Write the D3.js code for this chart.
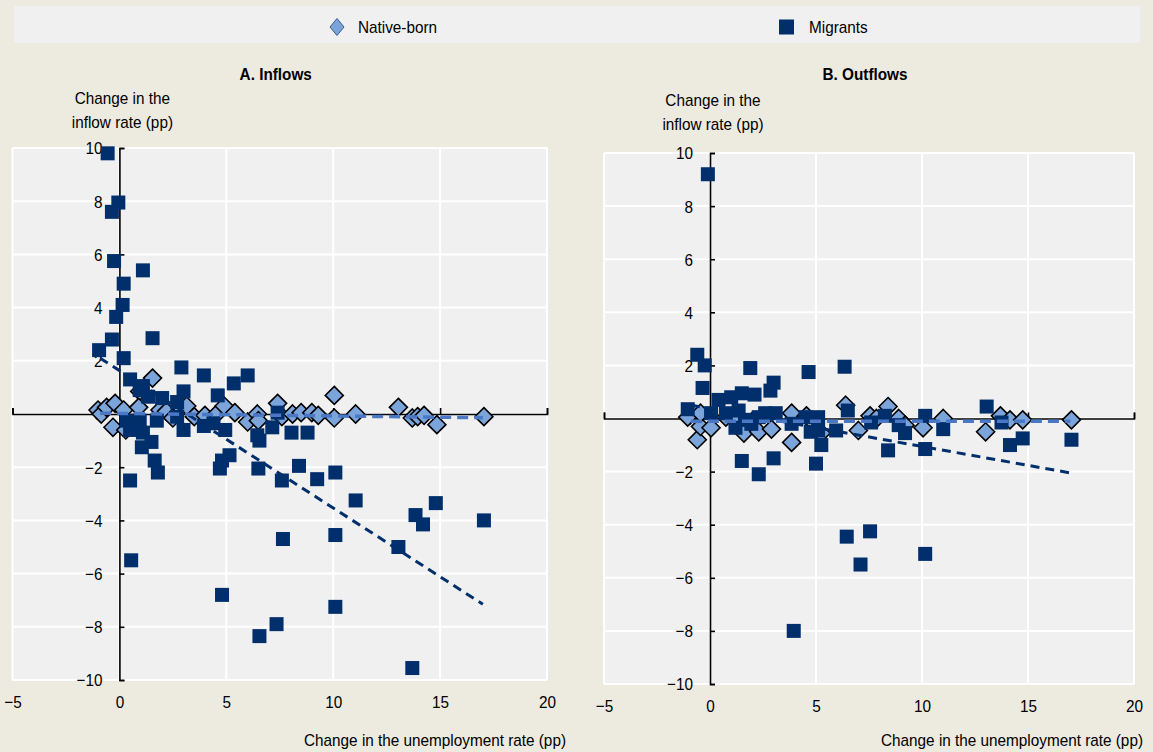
<!DOCTYPE html>
<html>
<head>
<meta charset="utf-8">
<script src="https://d3js.org/d3.v7.min.js"></script>
<style>
    body { margin: 0; background: #edeae0; }
    svg text { font-family: Arial, "Liberation Sans", sans-serif; fill: #000; }
</style>
</head>
<body>
<svg id="chart" width="1153" height="752"></svg>
<script>
// values, [change in unemployment rate, change in flow rate]
const inflowsMigrants = [
    [-0.55, 9.8], [-0.05, 7.95], [-0.35, 7.6], [-0.25, 5.75], [1.1, 5.4], [0.2, 4.9],
    [0.15, 4.1], [-0.15, 3.65], [-0.35, 2.8], [1.55, 2.85], [-0.95, 2.4], [0.2, 2.1],
    [2.9, 1.75], [0.5, 1.3], [1.1, 1.05], [3.95, 1.45], [5.35, 1.15], [6.0, 1.45],
    [3.0, 0.85], [4.6, 0.7], [1.35, 0.65], [2.0, 0.6], [2.7, 0.45], [0.95, 0.9],
    [0.35, -0.25], [0.95, -0.25], [1.75, -0.25], [2.7, -0.1], [3.0, -0.6], [0.5, -0.6],
    [1.1, -0.7], [1.05, -1.25], [1.5, -1.05], [1.65, -1.75], [1.8, -2.2], [0.5, -2.5],
    [0.55, -5.5], [4.4, -0.35], [3.95, -0.45], [4.95, -0.6], [6.45, -0.8], [7.15, -0.5],
    [8.05, -0.7], [8.8, -0.7], [7.4, 0.05], [6.55, -1.0], [4.8, -1.75], [5.15, -1.55],
    [4.7, -2.05], [6.5, -2.05], [8.4, -1.95], [7.6, -2.5], [9.25, -2.45], [10.1, -2.2],
    [11.05, -3.25], [7.65, -4.7], [10.1, -4.55], [13.05, -5.0], [13.85, -3.8], [14.2, -4.15],
    [14.8, -3.35], [17.05, -4.0], [4.8, -6.8], [10.1, -7.25], [7.35, -7.9], [6.55, -8.35],
    [13.7, -9.55]
];
const inflowsNative = [
    [-1.0, 0.15], [-0.85, 0.0], [-0.6, 0.25], [-0.3, -0.5], [-0.2, 0.4], [0.2, 0.15],
    [0.3, -0.6], [1.55, 1.35], [0.95, 0.85], [0.9, 0.25], [1.9, 0.15], [2.2, 0.1],
    [2.5, -0.15], [3.15, 0.3], [3.5, -0.1], [4.0, -0.05], [4.55, 0.0], [4.9, 0.3],
    [5.4, 0.05], [6.0, -0.3], [6.45, 0.0], [6.5, -0.25], [7.4, 0.4], [7.6, -0.1],
    [8.1, 0.0], [8.5, 0.05], [9.0, 0.05], [9.3, -0.05], [10.05, 0.7], [10.05, -0.15],
    [11.05, 0.0], [13.05, 0.25], [13.7, -0.15], [13.95, -0.1], [14.25, -0.05], [14.85, -0.4],
    [17.05, -0.1]
];
const outflowsMigrants = [
    [-0.1, 9.2], [-0.6, 2.4], [-0.25, 2.0], [-0.35, 1.15], [-1.05, 0.35], [1.9, 1.9],
    [4.65, 1.75], [6.35, 1.95], [3.0, 1.35], [2.85, 1.05], [0.4, 0.7], [1.0, 0.8],
    [1.5, 0.95], [2.1, 0.9], [0.05, 0.2], [0.75, 0.2], [1.35, 0.3], [1.65, -0.05],
    [2.3, 0.05], [1.2, -0.35], [1.95, -0.2], [2.6, 0.2], [3.1, 0.2], [3.85, -0.2],
    [4.5, 0.05], [5.1, 0.05], [5.1, -0.45], [4.75, -0.5], [5.25, -1.0], [5.95, -0.45],
    [6.5, 0.3], [7.6, -0.15], [8.25, 0.1], [8.9, -0.25], [9.2, -0.55], [8.4, -1.2],
    [10.15, 0.1], [10.15, -1.15], [11.0, -0.4], [13.05, 0.45], [13.75, -0.15], [14.15, -1.0],
    [14.75, -0.75], [17.05, -0.8], [1.5, -1.6], [3.0, -1.5], [2.3, -2.1], [5.0, -1.7],
    [6.45, -4.45], [7.55, -4.25], [7.1, -5.5], [10.15, -5.1], [3.95, -8.0]
];
const outflowsNative = [
    [-1.05, 0.05], [-0.6, -0.8], [-0.45, -0.3], [-0.45, 0.2], [0.05, -0.35], [0.75, 0.05],
    [1.2, 0.1], [1.6, -0.55], [2.0, -0.1], [2.3, -0.5], [2.9, -0.4], [3.85, 0.2],
    [3.85, -0.9], [4.55, 0.1], [5.25, -0.55], [6.4, 0.5], [7.0, -0.45], [7.55, 0.1],
    [7.85, 0.0], [8.4, 0.45], [8.9, 0.0], [9.2, -0.25], [10.05, -0.35], [11.0, 0.0],
    [13.0, -0.5], [13.7, 0.1], [14.15, -0.05], [14.75, -0.05], [17.05, -0.05]
];
// linear trend lines, end points
const inflowsMigrantsTrend = [[-0.9, 2.1], [17.0, -7.15]];
const inflowsNativeTrend = [[-0.9, 0.03], [17.0, -0.14]];
const outflowsMigrantsTrend = [[-0.9, 0.5], [17.0, -2.05]];
const outflowsNativeTrend = [[-0.9, -0.1], [17.0, -0.1]];

const xTicks = [-5, 0, 5, 10, 15, 20];
const yTicks = [-10, -8, -6, -4, -2, 0, 2, 4, 6, 8, 10];
const seriesNames = ["Native-born", "Migrants"];

const navy = "#002f6c", light = "#7ba5da", midBlue = "#4a78c6";
const fs = 17;

// the source font is a narrow Arial, squeeze the glyphs a bit
function condense(sel) {
    sel.each(function() {
        const w = this.getComputedTextLength();
        this.setAttribute("textLength", w * 0.9);
        this.setAttribute("lengthAdjust", "spacingAndGlyphs");
    });
}

const svg = d3.select("#chart");

// legend
svg.append("rect").attr("x", 14).attr("y", 6).attr("width", 1126).attr("height", 37).attr("fill", "#f0f0f0");
const diamond = s => "M0," + (-s) + "L" + s + ",0L0," + s + "L" + (-s) + ",0Z";
const leg = svg.append("g");
leg.append("path").attr("d", "M0,-8.5L7,0L0,8.5L-7,0Z").attr("transform", "translate(337,27)")
    .attr("fill", light).attr("stroke", "#3a5a8c").attr("stroke-width", 1);
leg.append("text").attr("x", 358).attr("y", 33).attr("font-size", fs).text(seriesNames[0]);
leg.append("rect").attr("x", 779).attr("y", 19.5).attr("width", 15).attr("height", 15).attr("fill", navy);
leg.append("text").attr("x", 809).attr("y", 33).attr("font-size", fs).text(seriesNames[1]);

const panels = [
    {title: "A. Inflows", left: 12.5, right: 547, top: 148, bottom: 680, titleRight: 566, yTitleY: 104,
     migrants: inflowsMigrants, native: inflowsNative, mTrend: inflowsMigrantsTrend, nTrend: inflowsNativeTrend},
    {title: "B. Outflows", left: 604, right: 1134, top: 153, bottom: 684, titleRight: 1143, yTitleY: 106,
     migrants: outflowsMigrants, native: outflowsNative, mTrend: outflowsMigrantsTrend, nTrend: outflowsNativeTrend}
];

panels.forEach(function(p) {
    const x = d3.scaleLinear().domain([-5, 20]).range([p.left, p.right]);
    const y = d3.scaleLinear().domain([-10, 10]).range([p.bottom, p.top]);
    const g = svg.append("g");

    g.append("rect").attr("x", p.left).attr("y", p.top)
        .attr("width", p.right - p.left).attr("height", p.bottom - p.top).attr("fill", "#f0f0f0");

    g.selectAll(".hgrid").data(yTicks).enter().append("line")
        .attr("x1", p.left).attr("x2", p.right)
        .attr("y1", d => y(d)).attr("y2", d => y(d))
        .attr("stroke", "#fff").attr("stroke-width", 2);
    g.selectAll(".vgrid").data(xTicks).enter().append("line")
        .attr("x1", d => x(d)).attr("x2", d => x(d))
        .attr("y1", p.top).attr("y2", p.bottom)
        .attr("stroke", "#fff").attr("stroke-width", 2);

    // titles
    g.append("text").attr("x", (p.left + p.right) / 2 - 4).attr("y", 80)
        .attr("text-anchor", "middle").attr("font-size", fs).attr("font-weight", "bold").text(p.title);
    g.append("text").attr("x", x(0) + 3).attr("y", p.yTitleY)
        .attr("text-anchor", "middle").attr("font-size", fs).text("Change in the");
    g.append("text").attr("x", x(0) + 3).attr("y", p.yTitleY + 24)
        .attr("text-anchor", "middle").attr("font-size", fs).text("inflow rate (pp)");
    g.append("text").attr("x", p.titleRight).attr("y", 746)
        .attr("text-anchor", "end").attr("font-size", fs).text("Change in the unemployment rate (pp)");

    // axes through the origin
    const yAxis = g.append("g").attr("transform", "translate(" + x(0) + ",0)")
        .call(d3.axisLeft(y).tickValues(yTicks).tickSizeInner(-5).tickSizeOuter(-5).tickPadding(17));
    const xAxis = g.append("g").attr("transform", "translate(0," + y(0) + ")")
        .call(d3.axisBottom(x).tickValues(xTicks).tickSizeInner(-6).tickSizeOuter(-6).tickFormat(""));
    const xLabels = g.append("g").attr("transform", "translate(0," + p.bottom + ")")
        .call(d3.axisBottom(x).tickValues(xTicks).tickSize(0).tickPadding(16));
    xLabels.select(".domain").remove();
    [yAxis, xAxis, xLabels].forEach(a => {
        a.selectAll("text").attr("font-size", fs).attr("font-family", "Arial, 'Liberation Sans', sans-serif");
        a.selectAll("path, line").attr("stroke", "#000").attr("stroke-width", 1.6);
    });
    yAxis.selectAll("text").attr("dy", "0.35em");

    // points
    g.selectAll(".nb").data(p.native).enter().append("path")
        .attr("d", diamond(9))
        .attr("transform", d => "translate(" + x(d[0]) + "," + y(d[1]) + ")")
        .attr("fill", light).attr("stroke", "#000").attr("stroke-width", 1.6);
    g.selectAll(".mg").data(p.migrants).enter().append("rect")
        .attr("x", d => x(d[0]) - 7).attr("y", d => y(d[1]) - 7)
        .attr("width", 14).attr("height", 14).attr("fill", navy);

    const line = d3.line().x(d => x(d[0])).y(d => y(d[1]));
    g.append("path").datum(p.mTrend).attr("d", line).attr("fill", "none")
        .attr("stroke", navy).attr("stroke-width", 3).attr("stroke-dasharray", "9,6");
    g.append("path").datum(p.nTrend).attr("d", line).attr("fill", "none")
        .attr("stroke", midBlue).attr("stroke-width", 3.5).attr("stroke-dasharray", "11,6");
});

condense(svg.selectAll("text"));
</script>
</body>
</html>
